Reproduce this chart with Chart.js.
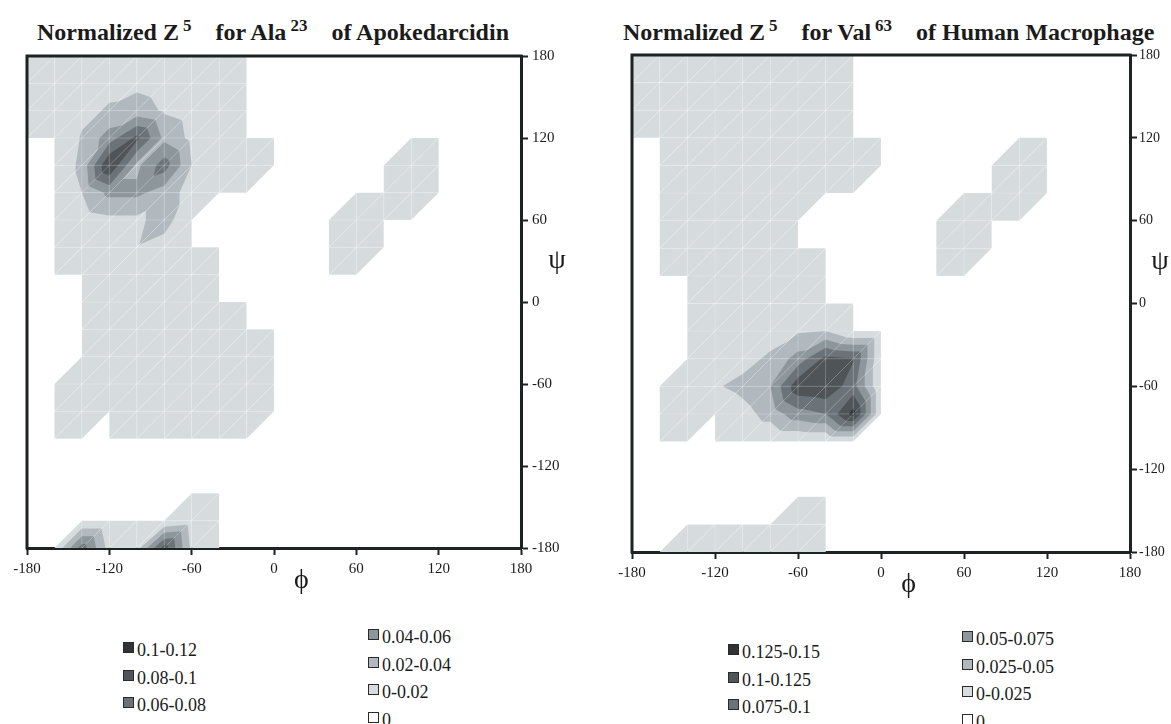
<!DOCTYPE html>
<html>
<head>
<meta charset="utf-8">
<title>Normalized Z5</title>
<script src="https://cdn.jsdelivr.net/npm/chart.js@4.4.1/dist/chart.umd.min.js"></script>
<style>
    body { margin: 0; width: 1171px; height: 724px; position: relative; overflow: hidden; background: #fff;
           font-family: 'Liberation Serif', 'Times New Roman', serif; color: #1b1b1b; }
    .title { position: absolute; top: 20px; font-size: 24px; line-height: 24px; font-weight: bold; white-space: nowrap; }
    .title sup { font-size: 17px; line-height: 0; margin-left: 4px; }
    .panel { position: absolute; top: 0; }
    .sq { position: absolute; width: 9px; height: 9px; border: 1px solid #2a2a2a; }
    .lbl { position: absolute; font-size: 18px; line-height: 18px; white-space: nowrap; }
</style>
</head>
<body>
<div class="title" style="left:37px">Normalized Z<sup>5</sup>&nbsp;&nbsp;&nbsp; for Ala<sup>23</sup>&nbsp;&nbsp;&nbsp; of Apokedarcidin</div>
<div class="title" style="left:623px">Normalized Z<sup>5</sup>&nbsp;&nbsp;&nbsp; for Val<sup>63</sup>&nbsp;&nbsp;&nbsp; of Human Macrophage</div>
<canvas id="ala" class="panel" style="left:0" width="585" height="600"></canvas>
<canvas id="val" class="panel" style="left:585px" width="586" height="600"></canvas>
<div id="keys"></div>
<script>
// grid of the surface (degrees)
const phiValues = [-180, -160, -140, -120, -100, -80, -60, -40, -20, 0, 20, 40, 60, 80, 100, 120, 140, 160, 180];
const psiValues = [-180, -160, -140, -120, -100, -80, -60, -40, -20, 0, 20, 40, 60, 80, 100, 120, 140, 160, 180];
const xTicks = [-180, -120, -60, 0, 60, 120, 180];
const yTicks = [-180, -120, -60, 0, 60, 120, 180];

// band bottoms and legend texts, light to dark
const alaLevels = [0, 0.02, 0.04, 0.06, 0.08, 0.1];
const alaLegend = ['0-0.02', '0.02-0.04', '0.04-0.06', '0.06-0.08', '0.08-0.1', '0.1-0.12'];
const valLevels = [0, 0.025, 0.05, 0.075, 0.1, 0.125];
const valLegend = ['0-0.025', '0.025-0.05', '0.05-0.075', '0.075-0.1', '0.1-0.125', '0.125-0.15'];
const bandColors = ['#d6dbde', '#b1b9be', '#8d969b', '#6c7378', '#4e5458', '#2f3335'];

// Z5 values, rows from psi = 180 (top) down to psi = -180, columns phi = -180 .. 180
const alaZ5 = [
    [.006, .008, .010, .012, .012, .010, .008, .006, 0, 0, 0, 0, 0, 0, 0, 0, 0, 0, 0],
    [.008, .010, .012, .015, .016, .012, .010, .008, 0, 0, 0, 0, 0, 0, 0, 0, 0, 0, 0],
    [.006, .010, .015, .022, .028, .018, .012, .008, 0, 0, 0, 0, 0, 0, 0, 0, 0, 0, 0],
    [0, 0, .022, .050, .085, .035, .015, .008, 0, 0, 0, 0, 0, 0, 0, 0, 0, 0, 0],
    [0, 0, .026, .101, .035, .070, .020, .010, .006, 0, 0, 0, 0, 0, .008, 0, 0, 0, 0],
    [0, 0, .020, .045, .045, .030, .012, 0, 0, 0, 0, 0, 0, 0, .008, 0, 0, 0, 0],
    [0, 0, .010, .015, .015, .030, 0, 0, 0, 0, 0, 0, .008, 0, 0, 0, 0, 0, 0],
    [0, 0, .008, .010, .019, .010, 0, 0, 0, 0, 0, 0, .008, 0, 0, 0, 0, 0, 0],
    [0, 0, 0, .008, .010, .010, .006, 0, 0, 0, 0, 0, 0, 0, 0, 0, 0, 0, 0],
    [0, 0, 0, .010, .012, .010, .008, 0, 0, 0, 0, 0, 0, 0, 0, 0, 0, 0, 0],
    [0, 0, 0, .010, .012, .012, .010, .006, 0, 0, 0, 0, 0, 0, 0, 0, 0, 0, 0],
    [0, 0, 0, .010, .012, .014, .012, .010, .006, 0, 0, 0, 0, 0, 0, 0, 0, 0, 0],
    [0, 0, .006, .010, .012, .014, .012, .010, .006, 0, 0, 0, 0, 0, 0, 0, 0, 0, 0],
    [0, 0, .006, 0, .008, .010, .010, .008, .006, 0, 0, 0, 0, 0, 0, 0, 0, 0, 0],
    [0, 0, 0, 0, 0, 0, 0, 0, 0, 0, 0, 0, 0, 0, 0, 0, 0, 0, 0],
    [0, 0, 0, 0, 0, 0, 0, 0, 0, 0, 0, 0, 0, 0, 0, 0, 0, 0, 0],
    [0, 0, 0, 0, 0, 0, 0, 0, 0, 0, 0, 0, 0, 0, 0, 0, 0, 0, 0],
    [0, 0, 0, 0, 0, 0, .008, 0, 0, 0, 0, 0, 0, 0, 0, 0, 0, 0, 0],
    [0, 0, .070, .012, .010, .090, .015, 0, 0, 0, 0, 0, 0, 0, 0, 0, 0, 0, 0]
];

const valZ5 = [
    [.008, .010, .010, .012, .012, .010, .010, .008, 0, 0, 0, 0, 0, 0, 0, 0, 0, 0, 0],
    [.010, .012, .012, .014, .014, .012, .010, .008, 0, 0, 0, 0, 0, 0, 0, 0, 0, 0, 0],
    [.008, .010, .012, .012, .012, .012, .010, .008, 0, 0, 0, 0, 0, 0, 0, 0, 0, 0, 0],
    [0, 0, .010, .012, .012, .012, .010, .008, 0, 0, 0, 0, 0, 0, 0, 0, 0, 0, 0],
    [0, 0, .010, .010, .012, .012, .010, .010, .006, 0, 0, 0, 0, 0, .008, 0, 0, 0, 0],
    [0, 0, .008, .010, .010, .010, .008, 0, 0, 0, 0, 0, 0, 0, .008, 0, 0, 0, 0],
    [0, 0, .008, .010, .010, .008, 0, 0, 0, 0, 0, 0, .008, 0, 0, 0, 0, 0, 0],
    [0, 0, .006, .008, .010, .008, 0, 0, 0, 0, 0, 0, .008, 0, 0, 0, 0, 0, 0],
    [0, 0, 0, .008, .010, .010, .008, 0, 0, 0, 0, 0, 0, 0, 0, 0, 0, 0, 0],
    [0, 0, 0, .008, .010, .010, .010, 0, 0, 0, 0, 0, 0, 0, 0, 0, 0, 0, 0],
    [0, 0, 0, .008, .010, .012, .022, .025, 0, 0, 0, 0, 0, 0, 0, 0, 0, 0, 0],
    [0, 0, 0, .008, .015, .030, .060, .108, .102, 0, 0, 0, 0, 0, 0, 0, 0, 0, 0],
    [0, 0, .006, .022, .033, .050, .118, .122, .085, 0, 0, 0, 0, 0, 0, 0, 0, 0, 0],
    [0, 0, .005, 0, .015, .035, .065, .075, .135, 0, 0, 0, 0, 0, 0, 0, 0, 0, 0],
    [0, 0, 0, 0, 0, 0, 0, 0, 0, 0, 0, 0, 0, 0, 0, 0, 0, 0, 0],
    [0, 0, 0, 0, 0, 0, 0, 0, 0, 0, 0, 0, 0, 0, 0, 0, 0, 0, 0],
    [0, 0, 0, 0, 0, 0, 0, 0, 0, 0, 0, 0, 0, 0, 0, 0, 0, 0, 0],
    [0, 0, 0, 0, 0, 0, .008, 0, 0, 0, 0, 0, 0, 0, 0, 0, 0, 0, 0],
    [0, 0, .008, .008, .008, .008, .008, 0, 0, 0, 0, 0, 0, 0, 0, 0, 0, 0, 0]
];

const ink = '#1d2222';
const serif = 'Liberation Serif';

// part of a triangle where the surface is above t
function clipAbove(tri, t) {
    let out = [];
    for (let m = 0; m < tri.length; m++) {
        let a = tri[m], b = tri[(m + 1) % tri.length];
        if (a.v > t) out.push(a);
        if ((a.v > t) !== (b.v > t)) {
            let f = (a.v - t) / (a.v - b.v);
            out.push({ x: a.x + f * (b.x - a.x), y: a.y + f * (b.y - a.y), v: t });
        }
    }
    return out;
}

const contourFill = {
    id: 'contourFill',
    beforeDatasetsDraw(chart, args, opts) {
        const { ctx, chartArea: area, scales: { x, y } } = chart;
        const rows = opts.rows, n = psiValues.length;
        const z = (i, j) => rows[n - 1 - j][i];
        let tris = [];
        for (let j = 0; j < n - 1; j++) {
            for (let i = 0; i < phiValues.length - 1; i++) {
                let c = [[i, j], [i + 1, j], [i + 1, j + 1], [i, j + 1]]
                    .map(([a, b]) => ({ x: phiValues[a], y: psiValues[b], v: z(a, b) }));
                tris.push([c[0], c[1], c[2]], [c[0], c[2], c[3]]);
            }
        }
        const path = poly => {
            ctx.beginPath();
            poly.forEach((p, m) => {
                let u = x.getPixelForValue(p.x), w = y.getPixelForValue(p.y);
                if (m) ctx.lineTo(u, w); else ctx.moveTo(u, w);
            });
            ctx.closePath();
        };
        ctx.save();
        ctx.beginPath();
        ctx.rect(area.left, area.top, area.width, area.height);
        ctx.clip();
        opts.levels.forEach((t, k) => {
            ctx.fillStyle = bandColors[k];
            tris.forEach(tri => {
                if (!tri.some(p => p.v > t)) return;
                path(clipAbove(tri, t));
                ctx.fill();
            });
        });
        // faint white seams of the triangulation
        ctx.strokeStyle = 'rgba(255,255,255,0.2)';
        ctx.lineWidth = 0.6;
        tris.forEach(tri => {
            if (!tri.some(p => p.v > 0)) return;
            path(tri);
            ctx.stroke();
        });
        ctx.restore();
    }
};

const frameAndSymbols = {
    id: 'frameAndSymbols',
    afterDraw(chart, args, opts) {
        const { ctx, chartArea: area, scales: { x, y } } = chart;
        ctx.save();
        ctx.strokeStyle = ink;
        ctx.lineWidth = 3;
        ctx.lineCap = 'square';
        ctx.beginPath();
        ctx.moveTo(area.left, area.bottom);
        ctx.lineTo(area.left, area.top);
        ctx.lineTo(area.right, area.top);
        ctx.stroke();
        ctx.fillStyle = '#1b1b1b';
        ctx.font = `28px "${serif}"`;
        ctx.textAlign = 'center';
        ctx.textBaseline = 'middle';
        ctx.fillText('\u03d5', x.getPixelForValue(20), area.bottom + 33);
        ctx.fillText('\u03c8', area.right + opts.psiOffset, y.getPixelForValue(30));
        ctx.restore();
    }
};

function makeChart(id, rows, levels, lay) {
    let points = [];
    rows.forEach((row, r) => row.forEach((v, i) => {
        if (v > 0) points.push({ x: phiValues[i], y: psiValues[psiValues.length - 1 - r] });
    }));
    const axis = (ticks, size, fontSize) => ({
        type: 'linear', min: -180, max: 180,
        afterBuildTicks: s => { s.ticks = ticks.map(v => ({ value: v })); },
        ticks: { font: { family: serif, size: fontSize }, color: '#1b1b1b', padding: 5, maxRotation: 0 },
        grid: { drawOnChartArea: false, tickLength: 7, tickWidth: 2, color: ink },
        border: { width: 3, color: ink },
        afterFit: size
    });
    let xAxis = axis(xTicks, s => { s.height = 40; }, 15);
    let yAxis = axis(yTicks, s => { s.width = lay.yWidth; }, lay.yFont);
    yAxis.position = 'right';
    yAxis.ticks.padding = lay.yPad;
    return new Chart(document.getElementById(id), {
        type: 'scatter',
        data: { datasets: [{ data: points, pointRadius: 0 }] },
        options: {
            responsive: false,
            animation: false,
            layout: { padding: lay.padding },
            scales: { x: xAxis, y: yAxis },
            plugins: {
                legend: { display: false },
                tooltip: { enabled: false },
                contourFill: { rows, levels },
                frameAndSymbols: { psiOffset: lay.psiOffset }
            }
        },
        plugins: [contourFill, frameAndSymbols]
    });
}

makeChart('ala', alaZ5, alaLevels,
    { padding: { left: 27, top: 56, right: 19, bottom: 12 }, yWidth: 45, yPad: 4, yFont: 15, psiOffset: 36 });
makeChart('val', valZ5, valLevels,
    { padding: { left: 47, top: 55, right: 5, bottom: 8 }, yWidth: 36, yPad: 2, yFont: 14, psiOffset: 30 });

// legends: darkest three on the left column, the rest plus zero on the right column
function addKey(labels, col1, col2) {
    const keys = document.getElementById('keys');
    let items = labels.map((t, k) => ({ t, c: bandColors[k] })).reverse();
    items.push({ t: '0', c: '#ffffff' });
    items.forEach((it, k) => {
        let col = k < 3 ? col1 : col2;
        let row = k < 3 ? k : k - 3;
        let cy = col.y + row * 27.5;
        let sq = document.createElement('div');
        sq.className = 'sq';
        sq.style.cssText = `left:${col.x}px;top:${cy - 5}px;background:${it.c}`;
        let tx = document.createElement('div');
        tx.className = 'lbl';
        tx.style.cssText = `left:${col.x + 14}px;top:${cy - 6}px`;
        tx.textContent = it.t;
        keys.appendChild(sq);
        keys.appendChild(tx);
    });
}
addKey(alaLegend, { x: 123, y: 647 }, { x: 368, y: 634 });
addKey(valLegend, { x: 728, y: 649 }, { x: 962, y: 636 });
</script>
</body>
</html>
